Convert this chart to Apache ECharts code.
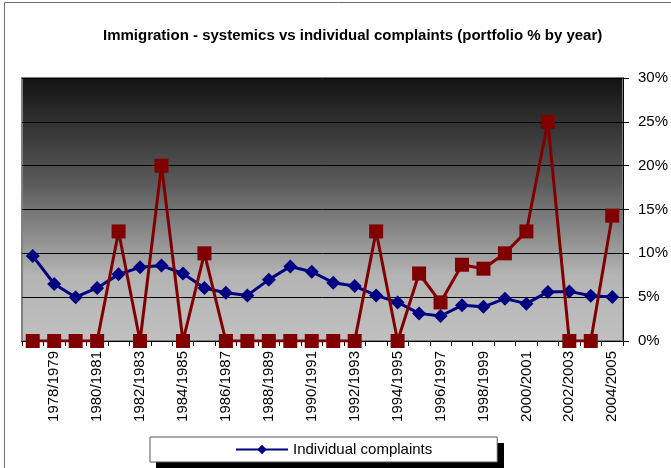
<!DOCTYPE html>
<html>
<head>
<meta charset="utf-8">
<script src="https://cdn.jsdelivr.net/npm/echarts@6/dist/echarts.min.js"></script>
<style>
  html, body { margin: 0; padding: 0; background: #fff; }
  #chart { width: 671px; height: 468px; }
</style>
</head>
<body>
<div id="chart"></div>
<script>
// Financial years covered by the portfolio
const years = [
  '1977/1978', '1978/1979', '1979/1980', '1980/1981', '1981/1982', '1982/1983', '1983/1984',
  '1984/1985', '1985/1986', '1986/1987', '1987/1988', '1988/1989', '1989/1990', '1990/1991',
  '1991/1992', '1992/1993', '1993/1994', '1994/1995', '1995/1996', '1996/1997', '1997/1998',
  '1998/1999', '1999/2000', '2000/2001', '2001/2002', '2002/2003', '2003/2004', '2004/2005'
];

// Individual complaints, % of portfolio
const individual = [
  9.7, 6.5, 5.0, 6.05, 7.6, 8.4, 8.6, 7.7, 6.05, 5.5, 5.2, 7.0, 8.5, 7.9,
  6.65, 6.27, 5.2, 4.4, 3.15, 2.85, 4.07, 3.9, 4.83, 4.26, 5.6, 5.66, 5.17, 5.02
];

// Systemic complaints, % of portfolio
const systemics = [
  0, 0, 0, 0, 12.5, 0, 20, 0, 10, 0, 0, 0, 0, 0,
  0, 0, 12.5, 0, 7.7, 4.4, 8.7, 8.25, 10, 12.5, 25, 0, 0, 14.3
];

// Value axis ticks
const yMin = 0, yMax = 30, yStep = 5;

const FONT = 'Liberation Sans, Arial, sans-serif';
const chart = echarts.init(document.getElementById('chart'));

chart.setOption({
  animation: false,
  backgroundColor: '#ffffff',
  textStyle: { fontFamily: FONT },
  title: {
    text: 'Immigration - systemics vs individual complaints (portfolio % by year)',
    left: 98,
    top: 23,
    textStyle: { fontFamily: FONT, fontSize: 15, fontWeight: 'bold', color: '#000' }
  },
  graphic: [
    {
      // outer chart frame
      type: 'polyline',
      silent: true,
      shape: { points: [[4.5, 470], [4.5, 2.5], [672, 2.5]] },
      style: { stroke: '#6e6e6e', lineWidth: 1, fill: null }
    },
    {
      // drop shadow behind the legend box
      type: 'rect',
      silent: true,
      z: -1,
      shape: { x: 156, y: 443, width: 348, height: 30 },
      style: { fill: '#000' }
    }
  ],
  legend: {
    data: ['Individual complaints'],
    left: 150,
    top: 437,
    padding: [5, 65, 5, 85],
    itemWidth: 52,
    itemHeight: 12,
    backgroundColor: '#ffffff',
    borderColor: '#555',
    borderWidth: 1,
    z: 5,
    textStyle: { fontFamily: FONT, fontSize: 15, color: '#000' }
  },
  grid: {
    left: 22,
    right: 44,
    top: 78,
    bottom: 127,
    show: true,
    borderColor: '#808080',
    borderWidth: 2,
    backgroundColor: {
      type: 'linear', x: 0, y: 0, x2: 0, y2: 1,
      colorStops: [
        { offset: 0, color: '#121212' },
        { offset: 0.4, color: '#5a5a5a' },
        { offset: 0.75, color: '#b4b4b4' },
        { offset: 1, color: '#c0c0c0' }
      ]
    }
  },
  xAxis: {
    type: 'category',
    data: years,
    boundaryGap: true,
    axisLine: { show: true, lineStyle: { color: '#000', width: 1 } },
    axisTick: { show: true, interval: 0, length: 5, lineStyle: { color: '#000' } },
    axisLabel: {
      interval: function (i) { return i % 2 === 1; },
      rotate: 90,
      margin: 10,
      fontFamily: FONT,
      fontSize: 15,
      color: '#000'
    },
    splitLine: { show: false }
  },
  yAxis: {
    type: 'value',
    position: 'right',
    min: yMin,
    max: yMax,
    interval: yStep,
    axisLine: { show: true, lineStyle: { color: '#000', width: 1 } },
    axisTick: { show: true, length: 6, lineStyle: { color: '#000' } },
    axisLabel: {
      formatter: '{value}%',
      margin: 15,
      fontFamily: FONT,
      fontSize: 15,
      color: '#000'
    },
    splitLine: { show: true, lineStyle: { color: '#000', width: 1 } }
  },
  series: [
    {
      name: 'Individual complaints',
      type: 'line',
      data: individual,
      symbol: 'diamond',
      symbolSize: 14,
      lineStyle: { color: '#000080', width: 3 },
      itemStyle: { color: '#000080' },
      z: 2
    },
    {
      name: 'Systemics',
      type: 'line',
      data: systemics,
      symbol: 'rect',
      symbolSize: 14,
      lineStyle: { color: '#800000', width: 3 },
      itemStyle: { color: '#800000' },
      z: 3
    }
  ]
});
</script>
</body>
</html>
